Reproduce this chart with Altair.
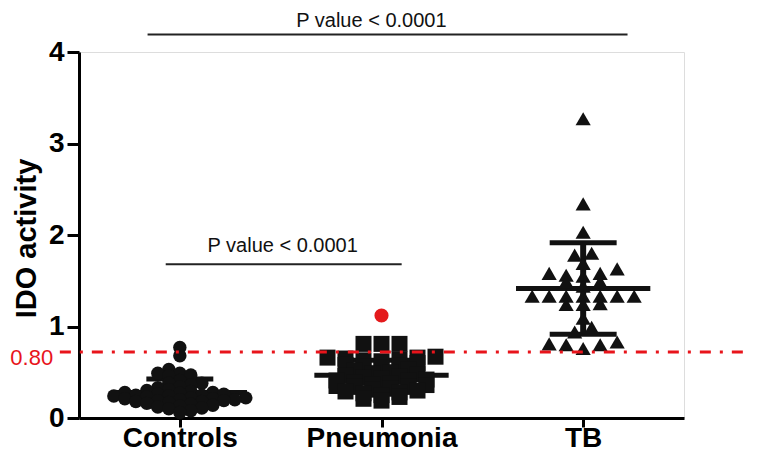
import altair as alt
import pandas as pd
import numpy as np

categories = ["Controls", "Pneumonia", "TB"]

controls = [0.77, 0.68, 0.53, 0.49, 0.49, 0.47, 0.46, 0.41, 0.38, 0.38, 0.36,
            0.34, 0.33, 0.31, 0.30, 0.29,
            0.28, 0.28, 0.27, 0.26, 0.26, 0.25, 0.25, 0.24, 0.24, 0.23,
            0.22, 0.22, 0.21, 0.21, 0.20, 0.20, 0.19, 0.19, 0.18, 0.18, 0.17,
            0.16, 0.15, 0.14, 0.13, 0.12, 0.11,
            0.10, 0.08, 0.06]
pneumonia = [0.81, 0.81, 0.81,
             0.67, 0.66, 0.66, 0.65, 0.64, 0.63, 0.62,
             0.60, 0.58, 0.57, 0.56, 0.55,
             0.53, 0.52, 0.50, 0.49, 0.48,
             0.46, 0.45, 0.44, 0.43, 0.42, 0.41, 0.41,
             0.39, 0.38, 0.37, 0.36, 0.35, 0.34, 0.34,
             0.32, 0.31, 0.30, 0.29, 0.28, 0.27,
             0.25, 0.23, 0.21, 0.19]
pneumonia_outlier = [1.12]
tb = [3.27, 2.34, 2.03, 1.80, 1.78, 1.69, 1.63, 1.58, 1.58, 1.56, 1.55, 1.49, 1.49,
      1.44, 1.33, 1.33, 1.33, 1.33, 1.33, 1.33, 1.33, 1.25, 1.24, 1.24, 1.09, 0.99,
      0.94, 0.83, 0.80, 0.80, 0.81, 0.76]

threshold_value = 0.72
threshold_label = "0.80"
p_text = "P value < 0.0001"
p_top = {"x1": 0.84, "x2": 3.22, "y_line": 4.19, "y_text": 4.34, "x_text": 1.95}
p_low = {"x1": 0.93, "x2": 2.10, "y_line": 1.68, "y_text": 1.88, "x_text": 1.51}

W, H = 605, 366
PX_X = W / 3.0


def row_swarm(values, spacing_px, row_h):
    """GraphPad-like scatter: values closer than row_h share a row and are spread evenly."""
    order = sorted(range(len(values)), key=lambda i: values[i])
    offs = [0.0] * len(values)
    rows, cur, start = [], [], None
    for i in order:
        if start is None or values[i] - start >= row_h:
            if cur:
                rows.append(cur)
            cur, start = [i], values[i]
        else:
            cur.append(i)
    if cur:
        rows.append(cur)
    for r in rows:
        n = len(r)
        slots = [(k - (n - 1) / 2.0) for k in range(n)]
        slots.sort(key=lambda s: (abs(s), s))
        for j, i in enumerate(r):
            offs[i] = slots[j] * spacing_px
    return offs


def slot_swarm(values, spacing_px, gap):
    """Each value (ascending) takes the nearest free column slot: a slot is free when no
    value already in it lies within `gap` below."""
    order = sorted(range(len(values)), key=lambda i: values[i])
    offs = [0.0] * len(values)
    taken = {}
    side = 1
    for i in order:
        v = values[i]
        k = 0
        cands = [0]
        for m in range(1, 40):
            cands += [m * side, -m * side]
        for c in cands:
            if all(abs(v - u) >= gap - 1e-9 for u in taken.get(c, [])):
                k = c
                break
        taken.setdefault(k, []).append(v)
        if k != 0:
            side = -side
        offs[i] = k * spacing_px
    return offs


def frame(offs, values, idx):
    return pd.DataFrame({"x": [idx + o / PX_X for o in offs], "v": values})


df_c = frame(slot_swarm(controls, 11, 0.07), controls, 1)
df_p = frame(row_swarm(pneumonia, 18, 0.06), pneumonia, 2)
df_t = frame(row_swarm(tb, 17, 0.08), tb, 3)
df_o = pd.DataFrame({"x": [2.0], "v": pneumonia_outlier})

stats = []
for i, vals in enumerate([controls, pneumonia, tb], start=1):
    m = float(np.mean(vals))
    s = float(np.std(vals, ddof=1))
    stats.append({"x": i, "xm1": i - 0.333, "xm2": i + 0.333, "xs1": i - 0.166,
                  "xs2": i + 0.166, "mean": m, "lo": m - s, "hi": m + s})
df_s = pd.DataFrame(stats)

xscale = alt.Scale(domain=[0.5, 3.5], nice=False, zero=False)
yscale = alt.Scale(domain=[0, 4], nice=False)

label_expr = "datum.value == 1 ? '%s' : datum.value == 2 ? '%s' : '%s'" % tuple(categories)

x_axis = alt.Axis(values=[1, 2, 3], labelExpr=label_expr, title=None, grid=False,
                  domainColor="black", domainWidth=3, tickColor="black",
                  tickWidth=3, tickSize=9, labelFontSize=28, labelFontWeight="bold",
                  labelFont="Liberation Sans", labelColor="black", labelPadding=-3)
y_axis = alt.Axis(values=[0, 1, 2, 3, 4], format="d", title="IDO activity",
                  grid=False, domainColor="black", domainWidth=3, tickColor="black",
                  tickWidth=3, tickSize=12, labelFontSize=28, labelFontWeight="bold",
                  labelFont="Liberation Sans", labelColor="black", labelPadding=3,
                  titleFontSize=29, titleFont="Liberation Sans", titleFontWeight="bold",
                  titleColor="black", titleAngle=270, titleAlign="center",
                  titleBaseline="alphabetic", titleX=-44, titleY=186)

mean_line = alt.Chart(df_s).mark_rule(color="#111111", strokeWidth=5).encode(
    x=alt.X("xm1:Q", scale=xscale, axis=x_axis), x2="xm2:Q",
    y=alt.Y("mean:Q", scale=yscale, axis=y_axis))
sd_hi = alt.Chart(df_s).mark_rule(color="#111111", strokeWidth=5).encode(
    x="xs1:Q", x2="xs2:Q", y="hi:Q")
sd_lo = alt.Chart(df_s).mark_rule(color="#111111", strokeWidth=5).encode(
    x="xs1:Q", x2="xs2:Q", y="lo:Q")
sd_v = alt.Chart(df_s).mark_rule(color="#111111", strokeWidth=6).encode(
    x="x:Q", y="lo:Q", y2="hi:Q")

pts_c = alt.Chart(df_c).mark_point(shape="circle", filled=True, size=180, color="#111111",
                                   opacity=1).encode(x="x:Q", y="v:Q")
pts_p = alt.Chart(df_p).mark_point(shape="square", filled=True, size=256, color="#111111",
                                   opacity=1).encode(x="x:Q", y="v:Q")
pts_t = alt.Chart(df_t).mark_point(shape="triangle-up", filled=True, size=230, color="#111111",
                                   opacity=1).encode(x="x:Q", y="v:Q")
pts_o = alt.Chart(df_o).mark_point(shape="circle", filled=True, size=200, color="#e41a1c",
                                   opacity=1).encode(x="x:Q", y="v:Q")

df_thr = pd.DataFrame({"x1": [0.405], "x2": [3.83], "y": [threshold_value],
                       "xt": [0.372], "label": [threshold_label]})
thr = alt.Chart(df_thr).mark_rule(color="#e8141b", strokeWidth=3,
                                  strokeDash=[11, 9, 3, 9]).encode(x="x1:Q", x2="x2:Q", y="y:Q")
thr_text = alt.Chart(df_thr).mark_text(color="#e8141b", fontSize=22, align="right",
                                       baseline="middle", dy=6,
                                       font="Liberation Sans").encode(
    x="xt:Q", y="y:Q", text="label:N")

df_ann = pd.DataFrame([
    {"x1": p_top["x1"], "x2": p_top["x2"], "y": p_top["y_line"], "xt": p_top["x_text"],
     "yt": p_top["y_text"], "t": p_text},
    {"x1": p_low["x1"], "x2": p_low["x2"], "y": p_low["y_line"], "xt": p_low["x_text"],
     "yt": p_low["y_text"], "t": p_text},
])
ann_line = alt.Chart(df_ann).mark_rule(color="#222222", strokeWidth=2).encode(
    x="x1:Q", x2="x2:Q", y="y:Q")
ann_text = alt.Chart(df_ann).mark_text(fontSize=20, font="Liberation Sans", color="#111111",
                                       baseline="middle", align="center").encode(
    x="xt:Q", y="yt:Q", text="t:N")

chart = alt.layer(mean_line, sd_hi, sd_lo, sd_v, pts_c, pts_p, pts_t, pts_o,
                  thr, thr_text, ann_line, ann_text).properties(
    width=W, height=H,
    autosize=alt.AutoSizeParams(type="none"),
    padding={"left": 71, "top": 44, "right": 64, "bottom": 36},
).configure_view(stroke=None).configure(background="white")

chart.save("out.html", embed_options={"renderer": "svg", "actions": False})
